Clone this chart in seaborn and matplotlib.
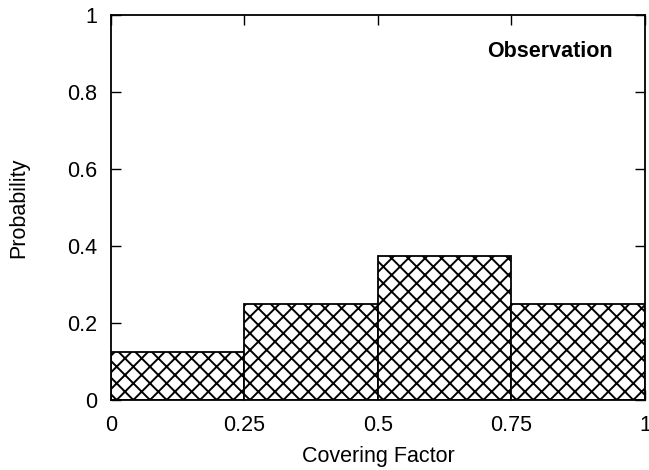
import matplotlib
matplotlib.use('Agg')
from matplotlib import pyplot as plt
import seaborn as sns

# histogram of covering factor (observation)
bin_edges = [0, 0.25, 0.5, 0.75, 1.0]
bin_centers = [0.125, 0.375, 0.625, 0.875]
probability = [0.125, 0.25, 0.375, 0.25]
x_ticks = [0, 0.25, 0.5, 0.75, 1]
x_tick_labels = ['0', '0.25', '0.5', '0.75', '1']
y_ticks = [0, 0.2, 0.4, 0.6, 0.8, 1]
y_tick_labels = ['0', '0.2', '0.4', '0.6', '0.8', '1']

sns.set_style('ticks')
plt.rcParams['font.family'] = ['Liberation Sans', 'DejaVu Sans']
plt.rcParams['hatch.linewidth'] = 1.4
plt.rcParams['text.color'] = 'black'
plt.rcParams['axes.labelcolor'] = 'black'

fig = plt.figure(figsize=(6.49, 4.70), dpi=100)
ax = fig.add_axes([0.171, 0.149, 0.8228, 0.819])

sns.histplot(x=bin_centers, weights=probability, bins=bin_edges, stat='count',
             ax=ax, color='white', edgecolor='black', linewidth=1.3,
             hatch='xx', alpha=1)

ax.set_xlim(0, 1)
ax.set_ylim(0, 1)
ax.set_xticks(x_ticks)
ax.set_xticklabels(x_tick_labels)
ax.set_yticks(y_ticks)
ax.set_yticklabels(y_tick_labels)
ax.tick_params(direction='in', length=7, width=1.0, top=True, right=True,
               labelsize=15.5, colors='black')
ax.tick_params(axis='x', pad=11)
ax.tick_params(axis='y', pad=10)
for spine in ax.spines.values():
    spine.set_linewidth(1.3)
    spine.set_color('black')

ax.set_xlabel('Covering Factor', fontsize=15.5, labelpad=7, color='black')
ax.set_ylabel('Probability', fontsize=15.5, labelpad=27, color='black')
ax.text(0.94, 0.904, 'Observation', fontsize=15.5, fontweight='bold',
        ha='right', va='center', color='black', transform=ax.transData)

fig.savefig('out.png', dpi=100)
